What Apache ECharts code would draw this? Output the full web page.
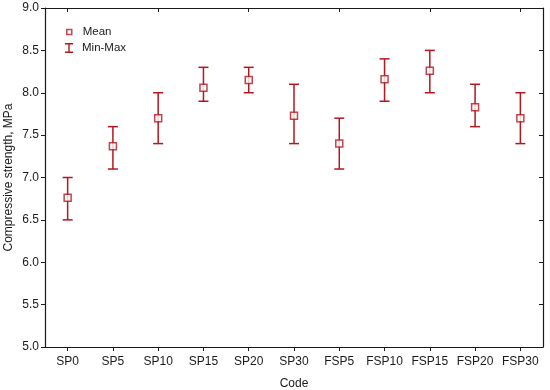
<!DOCTYPE html>
<html>
<head>
<meta charset="utf-8">
<script src="https://cdn.jsdelivr.net/npm/echarts@6/dist/echarts.min.js"></script>
<style>html,body{margin:0;padding:0;background:#fff}#c{width:550px;height:390px}</style>
</head>
<body>
<div id="c"></div>
<script>
var categories = ['SP0','SP5','SP10','SP15','SP20','SP30','FSP5','FSP10','FSP15','FSP20','FSP30'];
var meanValues = [6.76, 7.37, 7.70, 8.06, 8.15, 7.73, 7.40, 8.16, 8.26, 7.83, 7.70];
var minValues  = [6.5, 7.1, 7.4, 7.9, 8.0, 7.4, 7.1, 7.9, 8.0, 7.6, 7.4];
var maxValues  = [7.0, 7.6, 8.0, 8.3, 8.3, 8.1, 7.7, 8.4, 8.5, 8.1, 8.0];
var yTicks = [5.0, 5.5, 6.0, 6.5, 7.0, 7.5, 8.0, 8.5, 9.0];

var RED = '#b3171f';
var FONT = 'Liberation Sans';

var errData = categories.map(function (c, i) { return [i, minValues[i], maxValues[i]]; });
var meanData = categories.map(function (c, i) { return [i, meanValues[i]]; });

var chart = echarts.init(document.getElementById('c'), null, {renderer: 'canvas'});
var axisLabelStyle = {color: '#1a1a1a', fontFamily: FONT, fontSize: 12};

chart.setOption({
  animation: false,
  backgroundColor: '#fff',
  textStyle: {fontFamily: FONT},
  grid: {left: 45, right: 7, top: 8, bottom: 43, containLabel: false, outerBoundsMode: 'none'},
  legend: [{
    data: [{name: 'Mean', icon: 'rect', itemStyle: {color: '#fff', borderColor: RED, borderWidth: 1.5}}],
    left: 66, top: 26, padding: 0, itemWidth: 5, itemHeight: 5, itemGap: 6,
    textStyle: {color: '#1a1a1a', fontFamily: FONT, fontSize: 11.5, padding: [0, 0, 0, 6]}
  }, {
    data: [{name: 'Min-Max', icon: 'path://M0,0H8V1.4H4.7V8.6H8V10H0V8.6H3.3V1.4H0Z', itemStyle: {color: RED, borderWidth: 0}}],
    left: 65, top: 42, padding: 0, itemWidth: 8, itemHeight: 10, itemGap: 4,
    textStyle: {color: '#1a1a1a', fontFamily: FONT, fontSize: 11.5, padding: [0, 0, 0, 4]}
  }],
  xAxis: [{
    type: 'category', data: categories, position: 'bottom',
    name: 'Code', nameLocation: 'middle', nameGap: 31, nameMoveOverlap: false,
    nameTextStyle: {color: '#1a1a1a', fontFamily: FONT, fontSize: 12},
    axisLine: {lineStyle: {color: '#1a1a1a', width: 1.2}},
    axisTick: {show: true, alignWithLabel: true, inside: false, length: 4, lineStyle: {color: '#1a1a1a'}},
    axisLabel: Object.assign({margin: 9, interval: 0}, axisLabelStyle),
    splitLine: {show: false}
  }, {
    type: 'category', data: categories, position: 'top',
    axisLine: {lineStyle: {color: '#1a1a1a', width: 1.2}},
    axisTick: {show: true, alignWithLabel: true, inside: true, length: 4, lineStyle: {color: '#1a1a1a'}},
    axisLabel: {show: false},
    splitLine: {show: false}
  }],
  yAxis: [{
    type: 'value', min: 5.0, max: 9.0, interval: 0.5, position: 'left',
    name: 'Compressive strength, MPa', nameLocation: 'middle', nameGap: 30, nameMoveOverlap: false,
    nameTextStyle: {color: '#1a1a1a', fontFamily: FONT, fontSize: 12},
    axisLine: {show: true, lineStyle: {color: '#1a1a1a', width: 1.2}},
    axisTick: {show: true, inside: false, length: 4, lineStyle: {color: '#1a1a1a'}},
    axisLabel: Object.assign({margin: 6, formatter: function (v) { return v.toFixed(1); }}, axisLabelStyle),
    splitLine: {show: false}
  }, {
    type: 'value', min: 5.0, max: 9.0, interval: 0.5, position: 'right',
    axisLine: {show: true, lineStyle: {color: '#1a1a1a', width: 1.2}},
    axisTick: {show: true, inside: true, length: 4, lineStyle: {color: '#1a1a1a'}},
    axisLabel: {show: false},
    splitLine: {show: false}
  }],
  series: [{
    name: 'Min-Max', type: 'custom', xAxisIndex: 0, yAxisIndex: 0,
    itemStyle: {color: RED},
    data: errData,
    z: 2,
    renderItem: function (params, api) {
      var x = api.value(0);
      var lo = api.coord([x, api.value(1)]);
      var hi = api.coord([x, api.value(2)]);
      var hw = 5;
      var style = {stroke: RED, lineWidth: 1.5, fill: null};
      return {
        type: 'group',
        children: [
          {type: 'line', shape: {x1: lo[0], y1: lo[1], x2: hi[0], y2: hi[1]}, style: style},
          {type: 'line', shape: {x1: lo[0] - hw, y1: lo[1], x2: lo[0] + hw, y2: lo[1]}, style: style},
          {type: 'line', shape: {x1: hi[0] - hw, y1: hi[1], x2: hi[0] + hw, y2: hi[1]}, style: style}
        ]
      };
    }
  }, {
    name: 'Mean', type: 'scatter', xAxisIndex: 0, yAxisIndex: 0,
    symbol: 'rect', symbolSize: 7,
    itemStyle: {color: '#fff', borderColor: RED, borderWidth: 1.5},
    data: meanData,
    z: 3
  }]
});
</script>
</body>
</html>
